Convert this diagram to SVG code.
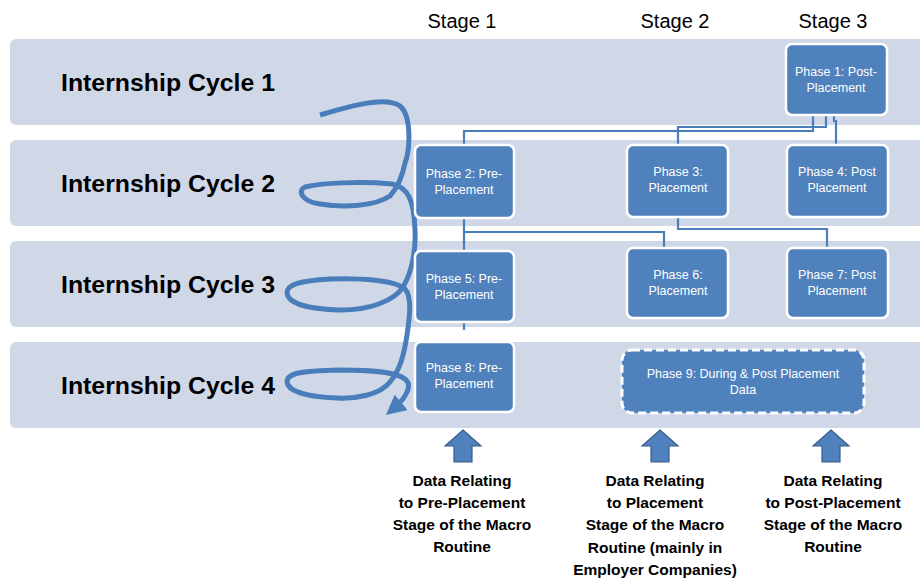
<svg xmlns="http://www.w3.org/2000/svg" width="920" height="580" viewBox="0 0 920 580">
<defs>
<style>
.band{fill:#D0D8E8;}
.cyc{font-family:"Liberation Sans",Arial,sans-serif;font-weight:bold;font-size:24px;fill:#000;}
.stage{font-family:"Liberation Sans",Arial,sans-serif;font-size:20px;fill:#000;text-anchor:middle;}
.node{fill:#4F81BD;stroke:#fff;stroke-width:2.5;}
.dnode{fill:#4F81BD;stroke:#fff;stroke-width:3;stroke-dasharray:8 4;}
.nt{font-family:"Liberation Sans",Arial,sans-serif;font-size:12.5px;fill:#fff;text-anchor:middle;}
.conn{fill:none;stroke:#4A7EBB;stroke-width:2.2;}
.spiral{fill:none;stroke:#4A7EBB;stroke-width:5;stroke-linecap:butt;stroke-linejoin:round;}
.up{fill:#4F81BD;stroke:#385D8A;stroke-width:1.2;}
.bt{font-family:"Liberation Sans",Arial,sans-serif;font-weight:bold;font-size:15.5px;fill:#000;text-anchor:middle;}
</style>
<marker id="ah" viewBox="0 0 10 10" refX="6" refY="5" markerWidth="4" markerHeight="4" orient="auto" markerUnits="strokeWidth">
<path d="M0,0 L10,5 L0,10 Z" fill="#4A7EBB"/>
</marker>
</defs>
<rect width="920" height="580" fill="#fff"/>

<g id="bands">
<rect class="band" x="10" y="39" width="920" height="86" rx="6"/>
<rect class="band" x="10" y="140" width="920" height="86" rx="6"/>
<rect class="band" x="10" y="241" width="920" height="86" rx="6"/>
<rect class="band" x="10" y="342" width="920" height="86" rx="6"/>
<text class="cyc" x="61" y="91" textLength="214" lengthAdjust="spacingAndGlyphs">Internship Cycle 1</text>
<text class="cyc" x="61" y="192" textLength="214" lengthAdjust="spacingAndGlyphs">Internship Cycle 2</text>
<text class="cyc" x="61" y="293" textLength="214" lengthAdjust="spacingAndGlyphs">Internship Cycle 3</text>
<text class="cyc" x="61" y="394" textLength="214" lengthAdjust="spacingAndGlyphs">Internship Cycle 4</text>
</g>

<g id="stages">
<text class="stage" x="462" y="28">Stage 1</text>
<text class="stage" x="675" y="28">Stage 2</text>
<text class="stage" x="833" y="28">Stage 3</text>
</g>

<g id="connectors">
<path class="conn" d="M813,115 V131 H464 V145"/>
<path class="conn" d="M826,115 V127 H678 V145"/>
<path class="conn" d="M834,115 V121 H836 V145"/>
<path class="conn" d="M464,218 V251"/>
<path class="conn" d="M464,232 H664 V248"/>
<path class="conn" d="M678,217 V229 H827 V248"/>
<path class="conn" d="M464,323 V330"/>
</g>

<g id="spiral">
<path class="spiral" marker-end="url(#ah)" d="M320,115 C350,106 385,96 400,106 C412,116 410,150 405,163 C402,178 398,187 390,196 C375,206 345,208 320,204 C300,201 298,190 305,187 C320,183 360,181 392,184 C408,187 414,200 415,230 C416,250 412,272 403,287 C395,300 370,311 337,310 C310,309 288,304 287,293 C287,284 300,281 330,279 C360,278 395,280 405,289 C412,297 410,315 407,335 C404,355 400,370 390,382 C380,395 355,399 337,398 C310,397 288,392 287,382 C287,373 300,371 340,370 C375,370 400,372 407,381 C412,388 404,400 392,410"/>
</g>

<g id="phase1"><rect class="node" x="786" y="44" width="101" height="71" rx="6"/><text class="nt" x="836" y="76">Phase 1: Post-</text><text class="nt" x="836" y="92">Placement</text></g>
<g id="phase2"><rect class="node" x="415" y="145" width="99" height="73" rx="6"/><text class="nt" x="464" y="178">Phase 2: Pre-</text><text class="nt" x="464" y="194">Placement</text></g>
<g id="phase3"><rect class="node" x="627" y="145" width="101" height="72" rx="6"/><text class="nt" x="678" y="176">Phase 3:</text><text class="nt" x="678" y="192">Placement</text></g>
<g id="phase4"><rect class="node" x="787" y="145" width="101" height="72" rx="6"/><text class="nt" x="837" y="176">Phase 4: Post</text><text class="nt" x="837" y="192">Placement</text></g>
<g id="phase5"><rect class="node" x="415" y="251" width="99" height="71" rx="6"/><text class="nt" x="464" y="283">Phase 5: Pre-</text><text class="nt" x="464" y="299">Placement</text></g>
<g id="phase6"><rect class="node" x="627" y="248" width="101" height="70" rx="6"/><text class="nt" x="678" y="279">Phase 6:</text><text class="nt" x="678" y="295">Placement</text></g>
<g id="phase7"><rect class="node" x="787" y="248" width="101" height="70" rx="6"/><text class="nt" x="837" y="279">Phase 7: Post</text><text class="nt" x="837" y="295">Placement</text></g>
<g id="phase8"><rect class="node" x="415" y="342" width="99" height="70" rx="6"/><text class="nt" x="464" y="372">Phase 8: Pre-</text><text class="nt" x="464" y="388">Placement</text></g>
<g id="phase9"><rect class="dnode" x="622" y="350" width="242" height="63" rx="10"/><text class="nt" x="743" y="378">Phase 9: During &amp; Post Placement</text><text class="nt" x="743" y="394">Data</text></g>

<g id="uparrows">
<path class="up" d="M463,430 L481,446 L472,446 L472,462 L454,462 L454,446 L445,446 Z"/>
<path class="up" d="M660,430 L678,446 L669,446 L669,462 L651,462 L651,446 L642,446 Z"/>
<path class="up" d="M831,430 L849,446 L840,446 L840,462 L822,462 L822,446 L813,446 Z"/>
</g>

<g id="labels">
<text class="bt" x="462" y="486">Data Relating</text>
<text class="bt" x="462" y="508">to Pre-Placement</text>
<text class="bt" x="462" y="530">Stage of the Macro</text>
<text class="bt" x="462" y="552">Routine</text>
<text class="bt" x="655" y="486">Data Relating</text>
<text class="bt" x="655" y="508">to Placement</text>
<text class="bt" x="655" y="530">Stage of the Macro</text>
<text class="bt" x="655" y="553">Routine (mainly in</text>
<text class="bt" x="655" y="575">Employer Companies)</text>
<text class="bt" x="833" y="486">Data Relating</text>
<text class="bt" x="833" y="508">to Post-Placement</text>
<text class="bt" x="833" y="530">Stage of the Macro</text>
<text class="bt" x="833" y="552">Routine</text>
</g>
</svg>
